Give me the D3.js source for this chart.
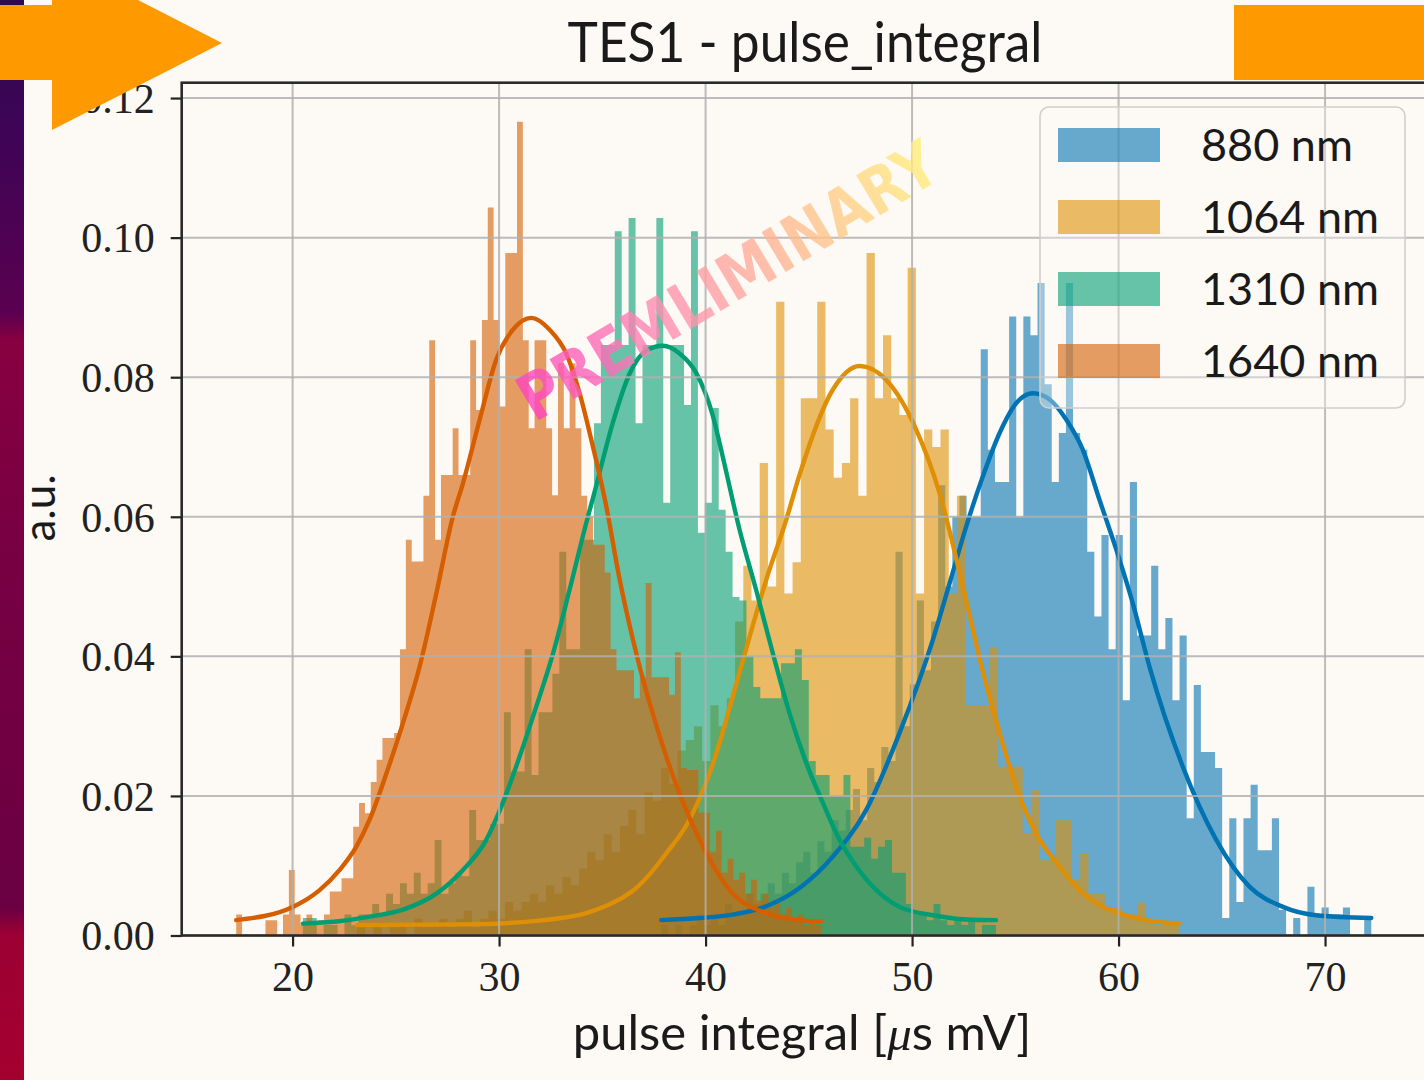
<!DOCTYPE html>
<html><head><meta charset="utf-8">
<script src="https://cdn.jsdelivr.net/npm/d3@7"></script>
<style>html,body{margin:0;padding:0;background:#fdfaf5;overflow:hidden}</style>
</head><body>
<svg id="c" width="1424" height="1080"></svg>
<script>
// ---------------- data ----------------
const seriesLabels = ["880 nm", "1064 nm", "1310 nm", "1640 nm"];
const seriesColors = ["#0173b2", "#de8f05", "#029e73", "#d55e00"];
const binStart = [37.85, 23.12, 20.50, 17.27];
const binWidth = [0.3439, 0.398, 0.3356, 0.2833];

const hist880 = [0.0015,0,0.0015,0,0.0015,0.003,0.0015,0.003,0.0015,0.0045,
 0.003,0.003,0.006,0.0045,0.006,0.0075,0.006,0.009,0.0075,0.0105,
 0.012,0.009,0.0135,0.012,0.0165,0.015,0.018,0.021,0.0165,0.024,
 0.022,0.027,0.025,0.055,0.03,0.036,0.048,0.038,0.045,0.0645,
 0.05,0.06,0.063,0.06,0.06,0.084,0.0696,0.065,0.065,0.0887,
 0.06,0.0887,0.086,0.0935,0.079,0.065,0.072,0.0935,0.072,0.0696,
 0.055,0.0457,0.0574,0.041,0.0574,0.0337,0.065,0.043,0.043,0.053,
 0.041,0.0455,0.0337,0.043,0.0168,0.0359,0.0263,0.0263,0.024,0.0025,
 0.0168,0.0048,0.0168,0.0216,0.0122,0.0122,0.0168,0.0037,0,0.0025,
 0,0.007,0.003,0.004,0.003,0.003,0.004,0,0,0.0025];

const hist1064 = [0.0012,0,0.0012,0,0.0012,0.0012,0,0.0024,0.0012,0.0012,
 0.0024,0.0012,0.0024,0.0036,0.0012,0.0024,0.0036,0.0024,0.0048,0.0036,
 0.0048,0.006,0.0048,0.0072,0.006,0.0084,0.0072,0.0096,0.012,0.0108,
 0.0145,0.012,0.0157,0.018,0.0145,0.0205,0.0193,0.024,0.0217,0.0265,
 0.028,0.03,0.025,0.033,0.03,0.034,0.045,0.053,0.048,0.0677,
 0.05,0.0908,0.049,0.0535,0.077,0.077,0.0908,0.0725,0.0656,0.0677,
 0.077,0.063,0.0978,0.077,0.086,0.077,0.0746,0.0957,0.049,0.0725,
 0.07,0.0725,0.049,0.063,0.033,0.033,0.033,0.0413,0.0242,0.0242,
 0.0242,0.0147,0.0208,0.0108,0.0108,0.0165,0.0165,0.008,0.0118,0.006,
 0.006,0.0041,0.0041,0.003,0.003,0.0047,0.002,0.0015,0.002,0.0015];

const hist1310 = [0.0025,0.0025,0,0.0015,0.0015,0,0.003,0.0015,0.003,0.003,
 0.0045,0.003,0.006,0.0045,0.0075,0.006,0.009,0.006,0.0075,0.0137,
 0.006,0.0075,0.009,0.0085,0.018,0.0137,0.0137,0.016,0.016,0.032,
 0.0235,0.0235,0.041,0.023,0.032,0.032,0.0375,0.055,0.041,0.041,
 0.0567,0.0567,0.0734,0.0846,0.0846,0.1009,0.0846,0.1028,0.0734,0.0846,
 0.0846,0.1028,0.062,0.0846,0.0846,0.076,0.1009,0.0577,0.062,0.0756,
 0.061,0.055,0.0485,0.048,0.04,0.0356,0.034,0.034,0.034,0.039,
 0.039,0.041,0.0366,0.025,0.023,0.023,0.02,0.02,0.023,0.0127,
 0.0127,0.014,0.011,0.0127,0.0137,0.009,0.009,0.0045,0.0032,0.0032,
 0.0022,0.0045,0.0022,0.0015,0.0022,0.0015,0.0022,0,0.0015,0.0015];

const hist1640 = [0.003,0,0,0,0,0.0022,0.0022,0,0.003,0.0094,
 0.003,0.0015,0.003,0.0015,0.0022,0.003,0.0063,0.0063,0.0082,0.0082,
 0.0156,0.019,0.0175,0.022,0.0252,0.0283,0.0283,0.029,0.041,0.0567,
 0.0536,0.0536,0.063,0.0853,0.0567,0.066,0.066,0.0727,0.066,0.066,
 0.0853,0.0753,0.0882,0.1043,0.0882,0.0758,0.0978,0.0978,0.1166,0.0853,
 0.0727,0.0853,0.0853,0.0727,0.0631,0.082,0.0727,0.082,0.0727,0.063,
 0.06,0.056,0.056,0.052,0.041,0.038,0.038,0.038,0.034,0.037,
 0.0505,0.037,0.037,0.037,0.0345,0.0406,0.024,0.0237,0.0237,0.0176,
 0.0176,0.012,0.015,0.009,0.011,0.008,0.009,0.006,0.008,0.005,
 0.006,0.004,0.005,0.003,0.004,0.002,0.003,0.0015,0.002,0.0015];

// fitted curves as [x, y] points
const fit880 = [[37.85,0.0022],[39.71,0.0025],[41.32,0.003],[42.94,0.0042],[44.55,0.0068],[46.16,0.0113],[47.78,0.018],[49.39,0.029],[51.01,0.0424],[51.82,0.0505],[52.62,0.0586],[53.43,0.0658],[54.24,0.072],[55.05,0.0763],[55.85,0.0777],[56.66,0.0768],[57.47,0.0739],[58.27,0.0696],[59.08,0.0624],[59.89,0.0553],[60.69,0.0476],[61.50,0.0385],[63.11,0.0242],[64.73,0.0137],[66.34,0.007],[67.96,0.0041],[69.57,0.0029],[72.24,0.0025]];
const fit1064 = [[23.12,0.0015],[28.57,0.0016],[31.80,0.0021],[34.22,0.0032],[35.84,0.0052],[36.48,0.0064],[37.30,0.0088],[38.10,0.0118],[39.07,0.0158],[39.71,0.0196],[40.52,0.0261],[41.32,0.0343],[42.13,0.0428],[42.94,0.051],[43.91,0.0596],[44.55,0.066],[46.16,0.0782],[47.46,0.0816],[48.75,0.0796],[50.20,0.0725],[51.33,0.0634],[52.46,0.05],[53.44,0.0377],[54.24,0.029],[55.04,0.0213],[56.01,0.0146],[57.14,0.0099],[58.27,0.006],[59.40,0.0039],[60.85,0.0025],[62.94,0.0017]];
const fit1310 = [[20.5,0.0017],[22.12,0.002],[23.73,0.0027],[25.34,0.0037],[26.96,0.006],[28.25,0.0094],[29.38,0.0137],[30.18,0.019],[30.99,0.0256],[31.80,0.0328],[32.61,0.0404],[33.41,0.0495],[34.22,0.0591],[34.62,0.0635],[35.51,0.0735],[36.32,0.0805],[37.13,0.0838],[37.93,0.0845],[38.74,0.0834],[39.55,0.0806],[40.35,0.0745],[40.84,0.0685],[41.65,0.0581],[42.45,0.0495],[43.26,0.0404],[44.07,0.0318],[44.88,0.0247],[45.68,0.019],[46.49,0.0137],[47.30,0.0099],[48.27,0.0065],[49.39,0.0041],[51.01,0.0029],[52.62,0.0023],[54.06,0.0022]];
const fit1640 = [[17.27,0.0022],[20.01,0.0041],[21.31,0.0065],[22.28,0.0094],[23.08,0.0127],[23.73,0.0166],[24.54,0.0232],[25.34,0.0304],[26.15,0.0385],[26.96,0.049],[27.76,0.06],[28.25,0.0648],[29.06,0.0739],[29.86,0.0825],[30.67,0.0868],[31.56,0.0885],[32.45,0.0868],[33.25,0.0834],[33.90,0.0777],[34.54,0.0701],[35.19,0.0615],[35.84,0.051],[36.48,0.0424],[38.10,0.0256],[39.71,0.0137],[41.32,0.006],[42.94,0.0032],[44.55,0.0022],[45.6,0.002]];

const xTicks = [20, 30, 40, 50, 60, 70];
const yTicks = [0, 0.02, 0.04, 0.06, 0.08, 0.10, 0.12];
const titleText = "TES1 - pulse_integral";
const yLabelText = "a.u.";
const watermarkText = "PREMLIMINARY";

const hists = [hist880, hist1064, hist1310, hist1640];
const fits = [fit880, fit1064, fit1310, fit1640];

// ---------------- layout ----------------
const svg = d3.select("#c");
const L = 181.7, T = 82.7, R = 1428.3, B = 935.5;
const x = d3.scaleLinear().domain([14.63, 75.0]).range([L, R]);
const y = d3.scaleLinear().domain([0, 0.1222]).range([B, T]);

const defs = svg.append("defs");
const sg = defs.append("linearGradient").attr("id","strip").attr("x1",0).attr("y1",0).attr("x2",0).attr("y2",1);
[[0,"#2c0a4e"],[0.12,"#3e0456"],[0.29,"#5a0050"],[0.315,"#880040"],[0.5,"#780043"],[0.84,"#6a0042"],[0.865,"#9c0034"],[1,"#a4002f"]]
  .forEach(([o,c]) => sg.append("stop").attr("offset",o).attr("stop-color",c));
const wg = defs.append("linearGradient").attr("id","wm").attr("gradientUnits","objectBoundingBox")
  .attr("x1",0).attr("y1",0).attr("x2",1).attr("y2",0);
[[0,"#ff3fbf"],[0.35,"#ff8fb0"],[0.65,"#ffb890"],[1,"#fff07a"]]
  .forEach(([o,c]) => wg.append("stop").attr("offset",o).attr("stop-color",c));
defs.append("clipPath").attr("id","plotclip").append("rect")
  .attr("x", L).attr("y", T).attr("width", R - L).attr("height", B - T);

svg.append("rect").attr("width",1424).attr("height",1080).attr("fill","#fdfaf5");
svg.append("rect").attr("x",0).attr("y",0).attr("width",24).attr("height",1080).attr("fill","url(#strip)");

const plot = svg.append("g").attr("clip-path","url(#plotclip)");

// histograms
const area = d3.area().curve(d3.curveStepAfter)
  .x(d => x(d[0])).y0(y(0)).y1(d => y(d[1]));
hists.forEach((h, s) => {
  const pts = h.map((v, i) => [binStart[s] + i * binWidth[s], v]);
  pts.push([binStart[s] + h.length * binWidth[s], h[h.length - 1]]);
  plot.append("path").attr("d", area(pts))
    .attr("fill", seriesColors[s]).attr("fill-opacity", 0.6);
});

// grid
const grid = svg.append("g");
grid.selectAll("line.gx").data(xTicks).join("line")
  .attr("x1", d => x(d)).attr("x2", d => x(d)).attr("y1", T).attr("y2", B)
  .attr("stroke", "#b0b0b0").attr("stroke-width", 2).attr("stroke-opacity", 0.85);
grid.selectAll("line.gy").data(yTicks).join("line")
  .attr("x1", L).attr("x2", R).attr("y1", d => y(d)).attr("y2", d => y(d))
  .attr("stroke", "#b0b0b0").attr("stroke-width", 2).attr("stroke-opacity", 0.85);

// fit curves
const line = d3.line().curve(d3.curveMonotoneX).x(d => x(d[0])).y(d => y(d[1]));
fits.forEach((f, s) => {
  plot.append("path").attr("d", line(f)).attr("fill","none")
    .attr("stroke", seriesColors[s]).attr("stroke-width", 4.4)
    .attr("stroke-linecap","round").attr("stroke-linejoin","round");
});

// axes
const xAxis = svg.append("g").attr("transform", `translate(0,${B})`)
  .call(d3.axisBottom(x).tickValues(xTicks).tickSize(11).tickPadding(14).tickFormat(d3.format("d")));
const yAxis = svg.append("g").attr("transform", `translate(${L},0)`)
  .call(d3.axisLeft(y).tickValues(yTicks).tickSize(11).tickPadding(16).tickFormat(d3.format(".2f")));
[xAxis, yAxis].forEach(a => {
  a.select(".domain").remove();
  a.selectAll(".tick line").attr("stroke","#222").attr("stroke-width",2.2);
  a.selectAll(".tick text").attr("fill","#222")
    .attr("font-family","'Liberation Serif', 'DejaVu Serif', serif").attr("font-size", 42);
});
xAxis.selectAll(".tick text").attr("dy", "0.72em");
yAxis.selectAll(".tick text").attr("dy", "0.34em");

// spines
svg.append("rect").attr("x", L).attr("y", T).attr("width", R - L).attr("height", B - T)
  .attr("fill","none").attr("stroke","#2a2a2a").attr("stroke-width",2.6);

// legend
const lg = svg.append("g");
lg.append("rect").attr("x",1040).attr("y",107).attr("width",365).attr("height",301).attr("rx",9)
  .attr("fill","#fdfaf5").attr("fill-opacity",0.35).attr("stroke","#cfcfcf").attr("stroke-width",1.6);
seriesLabels.forEach((lab, s) => {
  const cy = 145 + s * 72;
  lg.append("rect").attr("x",1058).attr("y",cy - 17).attr("width",102).attr("height",34)
    .attr("fill", seriesColors[s]).attr("fill-opacity",0.6);
  lg.append("text").attr("x",1201).attr("y",cy + 16).text(lab)
    .attr("font-family","Lato, 'Open Sans', sans-serif").attr("font-size",45).attr("fill","#1a1a1a");
});

// title and labels
svg.append("text").attr("x", 805).attr("y", 62).attr("text-anchor","middle").text(titleText)
  .attr("font-family","Lato, 'Open Sans', sans-serif").attr("font-size",56).attr("fill","#1a1a1a")
  .attr("textLength",475).attr("lengthAdjust","spacingAndGlyphs");
const xl = svg.append("text").attr("x", 802).attr("y", 1050).attr("text-anchor","middle")
  .attr("font-family","Lato, 'Open Sans', sans-serif").attr("font-size",49).attr("fill","#1a1a1a");
xl.append("tspan").text("pulse integral [");
xl.append("tspan").attr("font-style","italic").attr("font-family","'Liberation Serif', serif").text("μ");
xl.append("tspan").text("s mV]");
svg.append("text").attr("transform","translate(55,508) rotate(-90)").attr("text-anchor","middle")
  .text(yLabelText).attr("font-family","Lato, 'Open Sans', sans-serif").attr("font-size",44).attr("fill","#1a1a1a");

// watermark
svg.append("text").attr("transform","translate(728,281) rotate(-31)")
  .attr("text-anchor","middle").attr("dominant-baseline","central")
  .attr("font-family","'DejaVu Sans', sans-serif").attr("font-weight","bold").attr("font-size",64)
  .attr("textLength",478).attr("lengthAdjust","spacingAndGlyphs")
  .attr("fill","url(#wm)").attr("fill-opacity",0.8).text(watermarkText);

// orange overlay shapes
svg.append("path").attr("d", d3.line()([[0,5],[52,5],[52,-44],[222,43],[52,130],[52,80],[0,80]]) + "Z")
  .attr("fill","#ff9900");
svg.append("rect").attr("x",1234).attr("y",5).attr("width",190).attr("height",75).attr("fill","#ff9900");
</script>
</body></html>
